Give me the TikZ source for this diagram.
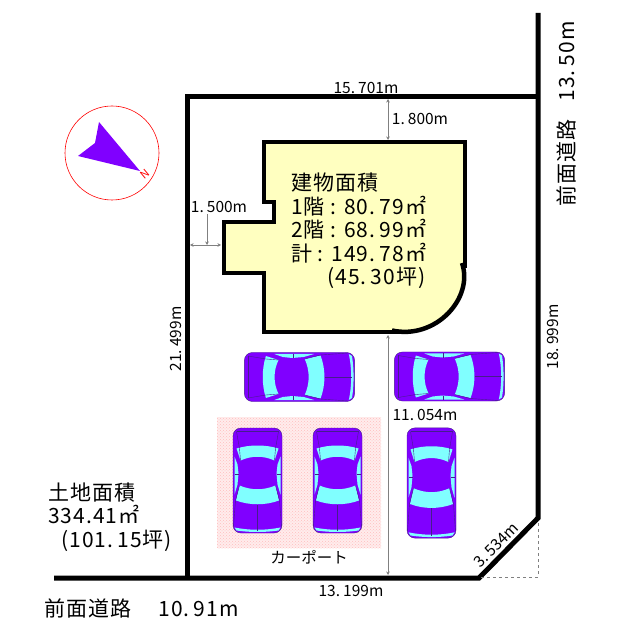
\documentclass[tikz,border=0pt]{standalone}
\usepackage{fontspec}
\usetikzlibrary{arrows.meta, patterns}
\setmainfont{Noto Sans CJK JP}
\definecolor{carpurple}{RGB}{128, 0, 255}
\definecolor{carglass}{RGB}{128, 255, 255}
\definecolor{carline}{RGB}{70, 30, 140}
\definecolor{bldgfill}{RGB}{255, 255, 192}
\definecolor{portfill}{RGB}{255, 236, 236}
\definecolor{portdots}{RGB}{255, 190, 190}
\newcommand{\pd}{.\kern.2em}
\newcommand{\bigtxt}{\fontsize{21}{23.5}\selectfont\addfontfeatures{LetterSpace=5}}
\newcommand{\smalltxt}{\fontsize{15.5}{18}\selectfont}

\begin{document}
\begin{tikzpicture}[
    x=1pt, y=-1pt,
    boundary/.style={line width=5pt, black, line cap=butt, miter limit=10},
    wall/.style={line width=4.5pt, black},
    dimline/.style={gray, line width=0.7pt, {Stealth[length=3.5pt,width=3.5pt]}-{Stealth[length=3.5pt,width=3.5pt]}},
    leader/.style={gray, line width=0.7pt, -{Stealth[length=3.5pt,width=3.5pt]}},
    area/.style={inner sep=0pt, align=left, anchor=west, font=\bigtxt},
    dimtext/.style={inner sep=0pt, font=\smalltxt},
    car/.pic={
        % Body
        \draw[carline, line width=0.4pt, fill=carpurple, rounded corners=8pt] (-24.5,-52.5) rectangle (24.5,52.5);
        % Windows
        \fill[carglass] (-21,-32) .. controls (-8,-36) and (8,-36) .. (21,-32) -- (17,-20) .. controls (6,-25) and (-6,-25) .. (-17,-20) -- cycle;
        \fill[carglass] (-18,5) .. controls (-6,10) and (6,10) .. (18,5) -- (21.5,20) .. controls (8,25) and (-8,25) .. (-21.5,20) -- cycle;
        \fill[carglass] (-23,-24) -- (-20,-16) -- (-19,-7) -- (-20,4) -- (-23,14) -- cycle;
        \fill[carglass] (23,-24) -- (20,-16) -- (19,-7) -- (20,4) -- (23,14) -- cycle;
        \fill[carglass] (-23,47) .. controls (-8,50) and (8,50) .. (23,47) -- (21,50) .. controls (8,52) and (-8,52) .. (-21,50) -- cycle;
        % Lines
        \draw[carline, line width=0.4pt] (-23,-6) -- (-19,-6) (23,-6) -- (19,-6);
        \draw[carline, line width=0.4pt] (-21,-49) -- (-18,-32) -- (-17,-20) (21,-49) -- (18,-32) -- (17,-20);
        \draw[carline, line width=0.4pt] (-18,5) -- (-22,20) -- (-24,46) (18,5) -- (22,20) -- (24,46);
        \draw[carline, line width=0.4pt] (-21,-49) -- (21,-49) (0,24) -- (0,50);
    }
]
\useasboundingbox (0,0) rectangle (640,636);

% Carport
\fill[portfill] (217,417) rectangle (381,548);
\fill[pattern=crosshatch dots, pattern color=portdots] (217,417) rectangle (381,548);

% Boundary
\draw[boundary] (54,578) -- (479,578) -- (538,518) -- (538,13);
\draw[boundary] (187,578) -- (187,97) -- (538,97);
\draw[gray, line width=0.5pt, dashed] (481,577) -- (538,577) -- (538,520);

% Building
\fill[bldgfill] (264,142) -- (465,142) -- (465,266) -- (462,263)
    .. controls (474,298) and (436,340) .. (392,330.5)
    -- (392,332) -- (264,332) -- (264,273) -- (224,273) -- (224,222) -- (274,222) -- (274,202) -- (264,202) -- cycle;
\draw[wall] (465,268) -- (465,142) -- (264,142) -- (264,202) -- (274,202) -- (274,222)
    -- (224,222) -- (224,273) -- (264,273) -- (264,332) -- (400,332);
\draw[wall] (462,263) .. controls (474,298) and (436,340) .. (392,330.5);

% Compass
\draw[red, line width=0.6pt] (112,153) circle (47);
\fill[carpurple] (99,122) -- (140,171) -- (78,156) -- (95,143) -- cycle;
\node[text=red, inner sep=0pt, rotate=220, font=\fontsize{11}{11}\selectfont] (north) at (145,174) {N};

% Dimensions
\draw[dimline] (388,99) -- (388,140);
\draw[dimline] (190,245) -- (221,245);
\draw[leader] (207,214) -- (207,245);
\draw[dimline] (388,335) -- (388,575);

% Cars
\pic[rotate=90, yscale=1.05] at (299.5,377) {car};
\pic[rotate=90, yscale=1.05] at (449.5,376.5) {car};
\pic at (257.5,480.5) {car};
\pic at (337.5,480.5) {car};
\pic[yscale=1.05] at (431.5,483) {car};

% Building text
\node[area] (bldgarea) at (291,231) {建物面積\\1階 : 80\pd79㎡\\2階 : 68\pd99㎡\\計 : 149\pd78㎡\\\hspace*{36pt}(45\pd30坪)};

% Land text
\node[area] (landarea) at (48,517) {土地面積\\334.41㎡\\\hspace*{13pt}(101\pd15坪)};
\node[area] (frontroad) at (44,608) {前面道路\hspace*{27pt}10\pd91m};
\node[area, anchor=center, rotate=90] (sideroad) at (566,114) {前面道路\hspace*{18pt}13\pd50m};

% Dimension text
\node[dimtext] (north_len) at (366,88) {15\pd701m};
\node[dimtext] (north_gap) at (420,119) {1\pd800m};
\node[dimtext] (west_gap) at (219,207) {1\pd500m};
\node[dimtext, rotate=90] (west_len) at (176,339) {21\pd499m};
\node[dimtext, rotate=90] (east_len) at (553,337) {18\pd999m};
\node[dimtext] (mid_len) at (425,415) {11\pd054m};
\node[dimtext] (south_len) at (351,591) {13\pd199m};
\node[dimtext, rotate=45] (corner_len) at (496,545) {3\pd534m};
\node[dimtext] (carport) at (309,557) {カーポート};

\end{tikzpicture}
\end{document}
